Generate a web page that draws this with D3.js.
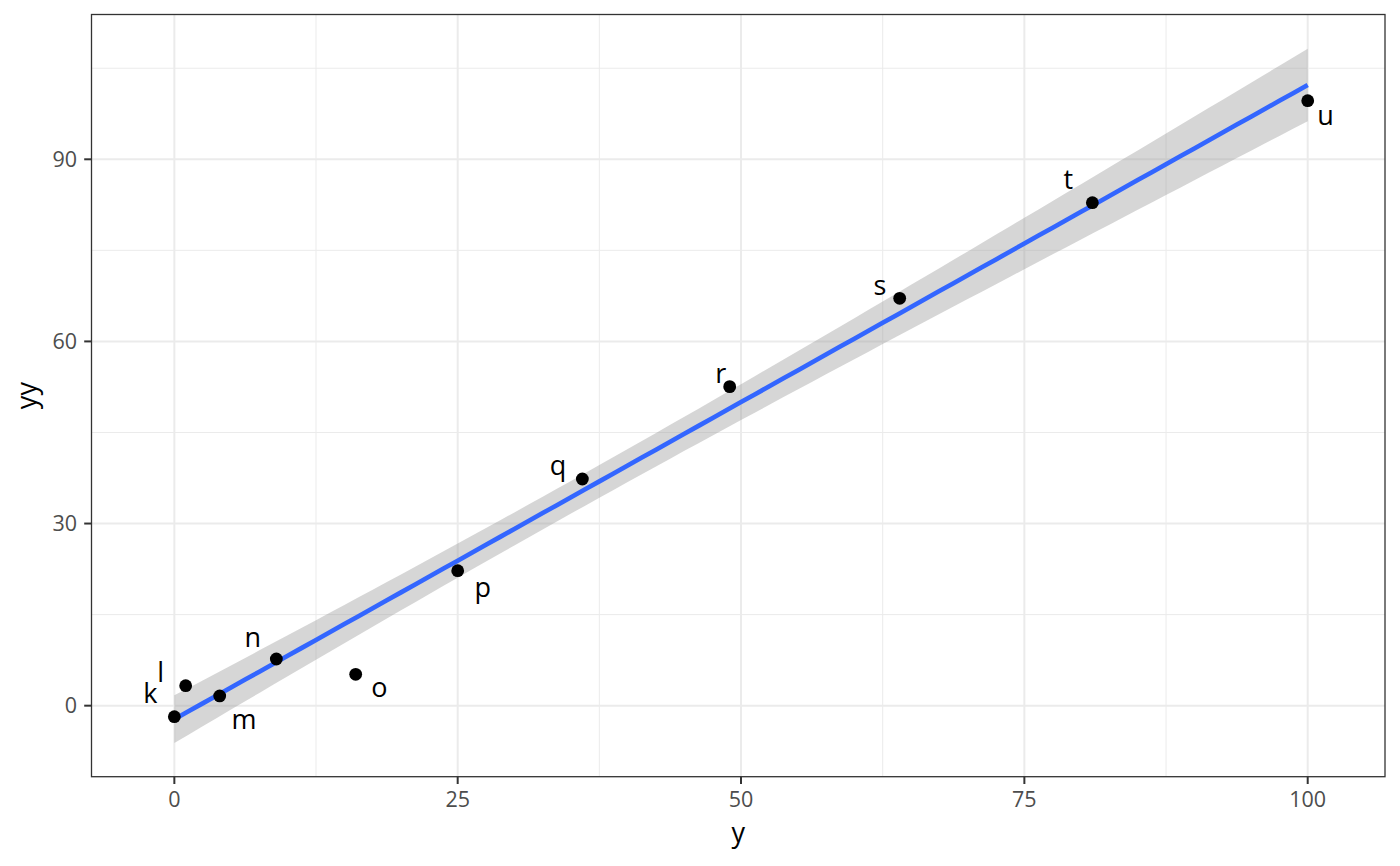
<!DOCTYPE html>
<html><head><meta charset="utf-8">
<script src="https://cdn.jsdelivr.net/npm/d3@7"></script>
<style>body{margin:0;background:#fff}svg{display:block}text{font-family:"Open Sans","Noto Sans",sans-serif}</style>
</head><body>
<svg id="c" width="1400" height="866"></svg>
<script>
const labels = ["k","l","m","n","o","p","q","r","s","t","u"];
const xVals = [0,1,4,9,16,25,36,49,64,81,100];
const yVals = [-1.81,3.29,1.6,7.69,5.17,22.24,37.34,52.55,67.1,82.85,99.65];
const labelDx = [-24,-24.9,24.4,-23.5,23.8,25.2,-24.4,-8.8,-19.8,-24,17.8];
const labelDy = [-13.4,-3.4,33.3,-12.3,22.4,26,-4,-3.4,-3.3,-13.4,24.3];
const xTicks = [0,25,50,75,100];
const yTicks = [0,30,60,90];
const xMinor = [12.5,37.5,62.5,87.5];
const yMinor = [15,45,75,105];

const svg = d3.select("#c");
const P = {l:91.5,r:1385,t:14.5,b:776.7};
const x = d3.scaleLinear().domain([-7.31,106.82]).range([P.l,P.r]);
const y = d3.scaleLinear().domain([-11.7,113.85]).range([P.b,P.t]);

// linear regression with 95% confidence band
const n = xVals.length;
const xb = d3.mean(xVals), yb = d3.mean(yVals);
let sxx=0,sxy=0; xVals.forEach((v,i)=>{sxx+=(v-xb)**2; sxy+=(v-xb)*(yVals[i]-yb);});
const b1 = sxy/sxx, b0 = yb-b1*xb;
let sse=0; xVals.forEach((v,i)=>{sse+=(yVals[i]-b0-b1*v)**2;});
const s = Math.sqrt(sse/(n-2)); const tq = 2.262;
const xmin = d3.min(xVals), xmax = d3.max(xVals);
const grid = d3.range(0,81).map(i=>xmin+i*(xmax-xmin)/80);
const band = grid.map(g=>{const f=b0+b1*g; const se=s*Math.sqrt(1/n+(g-xb)**2/sxx); return {g,f,lo:f-tq*se,hi:f+tq*se};});

svg.append("defs").append("clipPath").attr("id","cp").append("rect")
 .attr("x",P.l).attr("y",P.t).attr("width",P.r-P.l).attr("height",P.b-P.t);
const g = svg.append("g").attr("clip-path","url(#cp)");
g.selectAll(".mx").data(xMinor).join("line").attr("x1",d=>x(d)).attr("x2",d=>x(d)).attr("y1",P.t).attr("y2",P.b).attr("stroke","#EBEBEB").attr("stroke-width",1);
g.selectAll(".my").data(yMinor).join("line").attr("y1",d=>y(d)).attr("y2",d=>y(d)).attr("x1",P.l).attr("x2",P.r).attr("stroke","#EBEBEB").attr("stroke-width",1);
g.selectAll(".Mx").data(xTicks).join("line").attr("x1",d=>x(d)).attr("x2",d=>x(d)).attr("y1",P.t).attr("y2",P.b).attr("stroke","#EBEBEB").attr("stroke-width",2);
g.selectAll(".My").data(yTicks).join("line").attr("y1",d=>y(d)).attr("y2",d=>y(d)).attr("x1",P.l).attr("x2",P.r).attr("stroke","#EBEBEB").attr("stroke-width",2);

g.append("path").datum(band).attr("fill","#999999").attr("fill-opacity",0.4)
 .attr("d",d3.area().x(d=>x(d.g)).y0(d=>y(d.lo)).y1(d=>y(d.hi)));
g.append("path").datum(band).attr("fill","none").attr("stroke","#3366FF").attr("stroke-width",4.6)
 .attr("d",d3.line().x(d=>x(d.g)).y(d=>y(d.f)));

g.selectAll("circle").data(xVals).join("circle").attr("cx",d=>x(d)).attr("cy",(d,i)=>y(yVals[i])).attr("r",6.4).attr("fill","#000");
g.selectAll(".lab").data(labels).join("text").attr("x",(d,i)=>x(xVals[i])+labelDx[i]).attr("y",(d,i)=>y(yVals[i])+labelDy[i])
 .attr("text-anchor","middle").attr("font-size",27).attr("fill","#000").text(d=>d);

svg.append("rect").attr("x",P.l).attr("y",P.t).attr("width",P.r-P.l).attr("height",P.b-P.t).attr("fill","none").attr("stroke","#333333").attr("stroke-width",1.3);

// ticks
svg.selectAll(".xt").data(xTicks).join("line").attr("x1",d=>x(d)).attr("x2",d=>x(d)).attr("y1",P.b).attr("y2",P.b+7.3).attr("stroke","#333333").attr("stroke-width",2);
svg.selectAll(".yt").data(yTicks).join("line").attr("y1",d=>y(d)).attr("y2",d=>y(d)).attr("x1",P.l-7.3).attr("x2",P.l).attr("stroke","#333333").attr("stroke-width",2);
svg.selectAll(".xl").data(xTicks).join("text").attr("x",d=>x(d)).attr("y",807).attr("text-anchor","middle").attr("font-size",21.5).attr("fill","#4D4D4D").text(d=>d);
svg.selectAll(".yl").data(yTicks).join("text").attr("x",77).attr("y",d=>y(d)).attr("dy","0.36em").attr("text-anchor","end").attr("font-size",21.5).attr("fill","#4D4D4D").text(d=>d);

svg.append("text").attr("x",(P.l+P.r)/2).attr("y",842).attr("text-anchor","middle").attr("font-size",27).attr("fill","#000").text("y");
svg.append("text").attr("transform",`translate(36,${(P.t+P.b)/2}) rotate(-90)`).attr("text-anchor","middle").attr("font-size",27).attr("fill","#000").text("yy");
</script>
</body></html>
